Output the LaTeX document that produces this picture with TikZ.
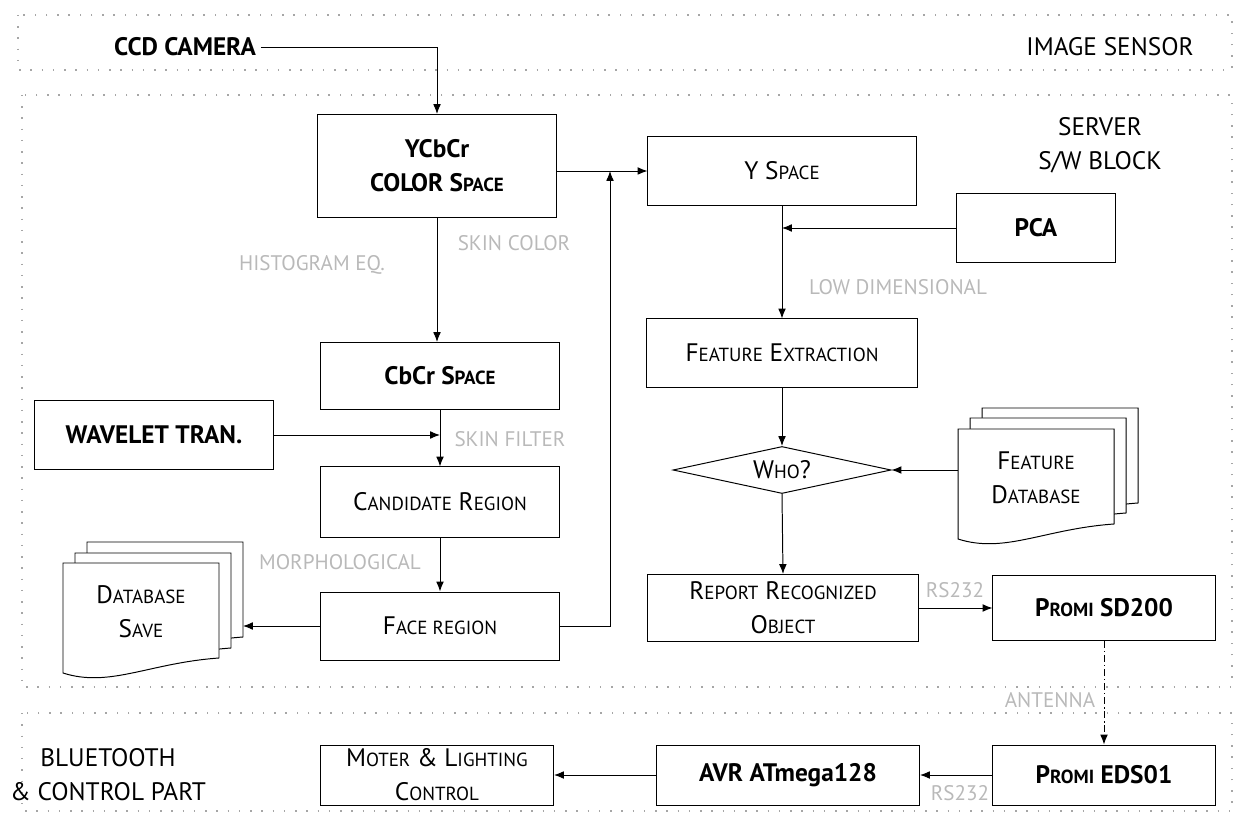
\documentclass[tikz,border=0pt]{standalone}
\usepackage{fontspec}
\setmainfont{PT Sans}
\usetikzlibrary{arrows.meta,shapes.geometric}
% petites capitales faites a la main
\newcommand{\lc}[1]{{\fontsize{13.5}{16}\selectfont #1}}
% une feuille de document : coin haut gauche, largeur, nom
\newcommand{\feuille}[4]{%
  \draw[fill=white,line width=0.7pt] (#1,#2) -- (#1+#3,#2) -- (#1+#3,#2+95)
    .. controls (#1+0.55*#3,#2+100) and (#1+0.3*#3,#2+125) .. (#1,#2+110) -- cycle;
  \coordinate (#4-e) at (#1+#3,#2+47);
  \coordinate (#4-w) at (#1,#2+47);}

\begin{document}
\begin{tikzpicture}[x=0.025cm,y=-0.025cm,
    boite/.style={draw,line width=0.7pt,align=center,inner sep=2pt},
    gras/.style={font=\bfseries\fontsize{18}{24}\selectfont},
    normal/.style={font=\fontsize{18}{24}\selectfont},
    etiq/.style={text=gray!55,font=\fontsize{15}{18}\selectfont},
    fleche/.style={-{Latex[length=7pt,width=5.5pt]},line width=0.7pt},
    cadre/.style={gray!70,line width=0.8pt,dash pattern=on 1pt off 7pt}]
  % On fixe la taille de l'image
  \useasboundingbox (0,0) rectangle (1238,813);

  % Les trois cadres en pointilles
  \draw[cadre] (18,15) rectangle (1232,70);
  \draw[cadre] (22,95) rectangle (1232,687);
  \draw[cadre] (22,713) rectangle (1232,811);

  % Les titres des blocs
  \node[gras] (ccd) at (185,47) {CCD CAMERA};
  \node[normal] (capteur) at (1110,47) {IMAGE SENSOR};
  \node[normal,align=center] (serveur) at (1100,145) {SERVER\\S/W BLOCK};
  \node[normal,align=center] (bt) at (108,775) {BLUETOOTH\\\& CONTROL PART};

  % Colonne de gauche : detection du visage
  \node[boite,gras,minimum width=5.95cm,minimum height=2.575cm] (ycbcr) at (437,166) {YCbCr\\COLOR S\lc{PACE}};
  \node[boite,gras,minimum width=5.975cm,minimum height=1.675cm] (cbcr) at (440,376) {CbCr S\lc{PACE}};
  \node[boite,gras,minimum width=5.95cm,minimum height=1.7cm] (wavelet) at (154,435) {WAVELET TRAN.};
  \node[boite,normal,minimum width=5.95cm,minimum height=1.75cm] (cand) at (440,502) {C\lc{ANDIDATE} R\lc{EGION}};
  \node[boite,normal,minimum width=5.95cm,minimum height=1.7cm] (face) at (440,626) {F\lc{ACE REGION}};

  % La pile de feuilles pour la sauvegarde
  \feuille{87}{542}{156}{dbs3}
  \feuille{75}{553}{156}{dbs2}
  \feuille{63}{563}{156}{dbs1}
  \node[normal,align=center] (dbsave) at (141,612) {D\lc{ATABASE}\\S\lc{AVE}};

  % Colonne de droite : reconnaissance
  \node[boite,normal,minimum width=6.7cm,minimum height=1.7cm] (yspace) at (782,171) {Y S\lc{PACE}};
  \node[boite,gras,minimum width=3.975cm,minimum height=1.7cm] (pca) at (1036,228) {PCA};
  \node[boite,normal,minimum width=6.75cm,minimum height=1.7cm] (feat) at (782,353) {F\lc{EATURE} E\lc{XTRACTION}};
  \node[draw,line width=0.7pt,diamond,aspect=4.6,inner sep=0pt,minimum width=5.45cm,minimum height=1.175cm,normal] (who) at (782,470) {W\lc{HO}?};
  \feuille{982}{408}{156}{fdb3}
  \feuille{970}{418}{156}{fdb2}
  \feuille{958}{429}{156}{fdb1}
  \node[normal,align=center] (featdb) at (1036,478) {F\lc{EATURE}\\D\lc{ATABASE}};
  \node[boite,normal,minimum width=6.75cm,minimum height=1.675cm] (report) at (783,608) {R\lc{EPORT} R\lc{ECOGNIZED}\\O\lc{BJECT}};
  \node[boite,gras,minimum width=5.55cm,minimum height=1.625cm] (sd200) at (1104,608) {P\lc{ROMI} SD200};

  % Ligne du bas : bluetooth et commande
  \node[boite,gras,minimum width=5.55cm,minimum height=1.5cm] (eds) at (1104,775) {P\lc{ROMI} EDS01};
  \node[boite,gras,minimum width=6.575cm,minimum height=1.5cm] (avr) at (788,775) {AVR ATmega128};
  \node[boite,normal,minimum width=5.825cm,minimum height=1.5cm] (moter) at (437,775) {M\lc{OTER} \& L\lc{IGHTING}\\C\lc{ONTROL}};

  % Les etiquettes grises des fleches
  \node[etiq] (histo) at (312,265) {HISTOGRAM EQ.};
  \node[etiq] (peau) at (514,243) {SKIN COLOR};
  \node[etiq] (filtre) at (510,439) {SKIN FILTER};
  \node[etiq] (morpho) at (340,562) {MORPHOLOGICAL};
  \node[etiq] (basse) at (898,287) {LOW DIMENSIONAL};
  \node[etiq] (rs1) at (955,590) {RS232};
  \node[etiq] (antenne) at (1050,700) {ANTENNA};
  \node[etiq] (rs2) at (960,793) {RS232};

  % Les fleches
  \coordinate (jonction) at (610,171);
  \draw[fleche] (ccd.east) -| (ycbcr.north);
  \draw[fleche] (ycbcr.south) -- (ycbcr.south |- cbcr.north);
  \draw[fleche] (cbcr.south) -- (cbcr.south |- cand.north);
  \draw[fleche] (wavelet.east) -- (wavelet.east -| cand.north);
  \draw[fleche] (cand.south) -- (face.north);
  \draw[fleche] (face.west) -- (face.west -| dbs3-e);
  \draw[fleche] (ycbcr.east |- yspace.west) -- (yspace.west);
  \draw[fleche] (face.east) -| (jonction);
  \draw[fleche] (yspace.south) -- (feat.north);
  \draw[fleche] (pca.west) -- (pca.west -| yspace.south);
  \draw[fleche] (feat.south) -- (who.north);
  \draw[fleche] (who.east -| fdb1-w) -- (who.east);
  \draw[fleche] (who.south) -- (report.north);
  \draw[fleche] (report.east) -- (sd200.west);
  \draw[fleche,dash pattern=on 5pt off 2pt on 1pt off 2pt] (sd200.south) -- (eds.north);
  \draw[fleche] (eds.west) -- (avr.east);
  \draw[fleche] (avr.west) -- (moter.east);
\end{tikzpicture}
\end{document}
